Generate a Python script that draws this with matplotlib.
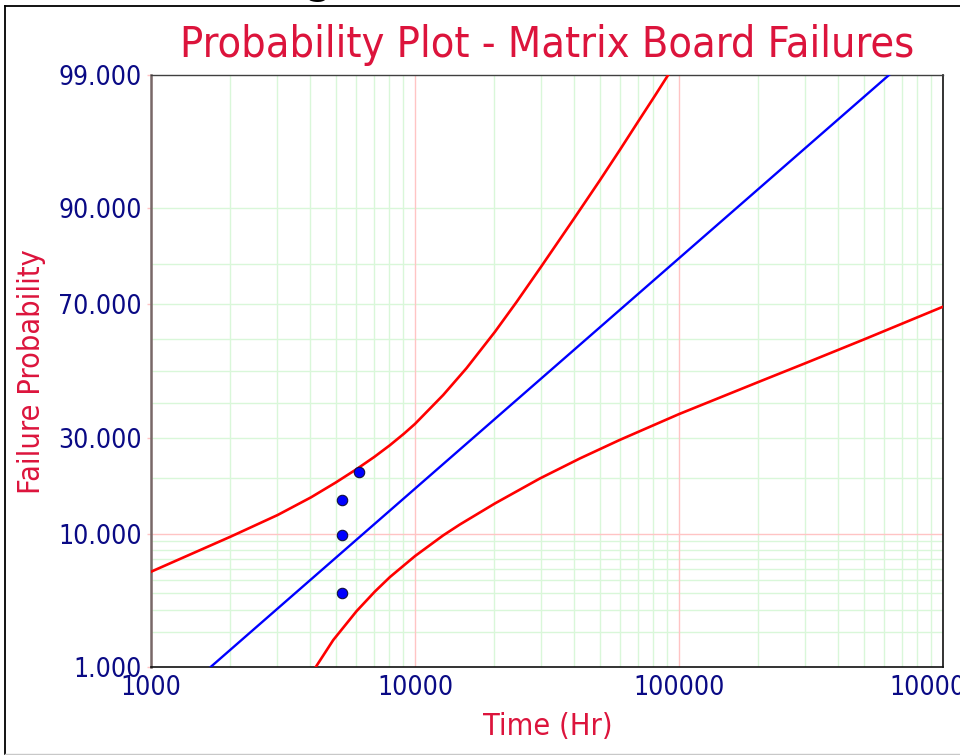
from statistics import NormalDist

import numpy as np
import matplotlib
matplotlib.use("Agg")
import matplotlib.pyplot as plt
from matplotlib.lines import Line2D
from matplotlib.ticker import LogLocator, NullFormatter, NullLocator

# failure times (Hr) and their median ranks (%)
fail_times = [5270, 5270, 5270, 6150]
fail_probs = [4.0, 9.8, 15.5, 21.3]

# fitted lognormal line, read at the 1% and 99% ends
fit_times = [1687, 624500]
fit_probs = [1.0, 99.0]

# two-sided confidence bounds
upper_times = [1000, 2009, 3018, 4035, 5017, 5988, 7006, 8035, 9101, 10000,
               12790, 15680, 20070, 24250, 30160, 39720, 50130, 59690, 70000,
               81000, 90940]
upper_probs = [5.71, 9.64, 12.85, 15.99, 19.02, 21.92, 24.91, 27.94, 31.12,
               33.83, 42.47, 50.86, 62.03, 70.59, 79.51, 88.24, 93.29, 95.88,
               97.50, 98.47, 99.0]

lower_times = [4216, 4900, 6009, 7050, 8035, 10000, 12790, 14790, 20070,
               29720, 42110, 59690, 100000, 202500, 302400, 500000, 1000000]
lower_probs = [1.0, 1.713, 2.944, 4.137, 5.245, 7.262, 9.79, 11.35, 14.85,
               19.87, 24.54, 29.36, 36.69, 46.69, 52.46, 59.70, 69.3]

x_ticks = [1000, 10000, 100000, 1000000]
y_ticks = [1, 10, 30, 70, 90, 99]
y_grid = [2, 3, 4, 5, 6, 7, 8, 9, 20, 30, 40, 50, 60, 70, 80, 90]

title_color = "#dc143c"
tick_color = "#0a0a85"
green = "#d9f7d9"
pink = "#ffc4c4"

_nd = NormalDist()


def prob_to_z(p):
    p = np.clip(np.asarray(p, dtype=float), 1e-6, 100 - 1e-6)
    return np.vectorize(lambda v: _nd.inv_cdf(v / 100.0), otypes=[float])(p)


def z_to_prob(z):
    z = np.asarray(z, dtype=float)
    return np.vectorize(lambda v: 100.0 * _nd.cdf(v), otypes=[float])(z)


font = dict(family="DejaVu Sans", fontstretch="condensed")

fig = plt.figure(figsize=(9.6, 7.55), dpi=100)
ax = fig.add_axes([151 / 960, 88.3 / 755, 792 / 960, 591.7 / 755])

ax.set_xscale("log")
ax.set_yscale("function", functions=(prob_to_z, z_to_prob))
ax.set_xlim(1000, 1000000)
ax.set_ylim(1, 99)

# grid
ax.set_axisbelow(True)
ax.xaxis.set_minor_locator(LogLocator(base=10, subs=range(2, 10)))
ax.xaxis.set_minor_formatter(NullFormatter())
ax.grid(axis="x", which="minor", color=green, lw=1.0)
ax.grid(axis="x", which="major", color=pink, lw=1.0)
for v in y_grid:
    ax.axhline(v, color=green, lw=1.0, zorder=0.5)
ax.axhline(10, color=pink, lw=1.0, zorder=0.6)

# curves
ax.plot(upper_times, upper_probs, color="#ff0000", lw=1.9, zorder=3)
ax.plot(lower_times, lower_probs, color="#ff0000", lw=1.9, zorder=3)
ax.plot(fit_times, fit_probs, color="#0000ff", lw=1.7, zorder=3)
ax.plot(fail_times, fail_probs, "o", ms=7.5, mfc="#0000ff", mec="#101040",
        mew=0.8, zorder=4, clip_on=False)

# ticks
ax.set_xticks(x_ticks)
ax.set_xticklabels([str(t) for t in x_ticks])
ax.set_yticks(y_ticks)
ax.set_yticklabels([f"{v:.3f}" for v in y_ticks])
ax.yaxis.set_minor_locator(NullLocator())
ax.tick_params(axis="x", which="both", length=0, pad=6.0, labelsize=19,
               labelcolor=tick_color)
ax.tick_params(axis="y", which="major", length=3, width=1, color=pink,
               pad=3.5, labelsize=19, labelcolor=tick_color)
for lab in ax.get_xticklabels() + ax.get_yticklabels():
    lab.set_fontstretch("condensed")

# spines
ax.spines["left"].set_color("#786868")
ax.spines["left"].set_linewidth(1.8)
ax.spines["top"].set_color("#404040")
ax.spines["top"].set_linewidth(1.0)
for side in ("right", "bottom"):
    ax.spines[side].set_color("#101010")
    ax.spines[side].set_linewidth(1.2)

# texts
fig.text(547 / 960, 1 - 57 / 755, "Probability Plot - Matrix Board Failures",
         ha="center", va="baseline", fontsize=31, color=title_color, **font)
fig.text(548 / 960, 1 - 735 / 755, "Time (Hr)", ha="center", va="baseline",
         fontsize=22, color=title_color, **font)
fig.text(31 / 960, 1 - 372 / 755, "Failure Probability", ha="center",
         va="center", rotation=90, fontsize=22, color=title_color, **font)

# bit of window heading cut off at the top
fig.text(318 / 960, 1 + 9 / 755, "g", ha="center", va="baseline",
         fontsize=38, color="black", **font)

# window frame
fig.add_artist(Line2D([5 / 960, 1], [1 - 6 / 755, 1 - 6 / 755],
                      transform=fig.transFigure, color="black", lw=1.3))
fig.add_artist(Line2D([5 / 960, 5 / 960], [1 - 6 / 755, 1 / 755],
                      transform=fig.transFigure, color="black", lw=1.3))
fig.add_artist(Line2D([5 / 960, 1], [1 / 755, 1 / 755],
                      transform=fig.transFigure, color="#c8c8c8", lw=1.0))

fig.savefig("out.png", dpi=100)
